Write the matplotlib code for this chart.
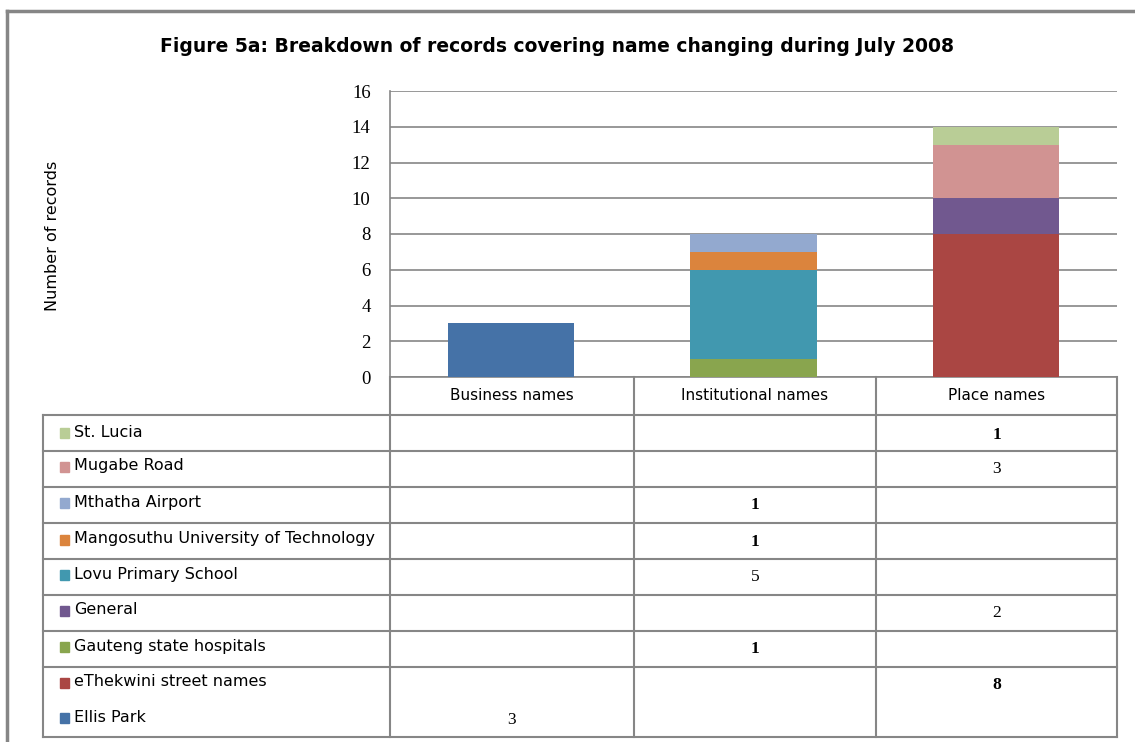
import numpy as np
import matplotlib.pyplot as plt
from matplotlib.lines import Line2D
from matplotlib.patches import Rectangle

# Categories and series (stack order bottom -> top)
categories = ['Business names', 'Institutional names', 'Place names']
series_names = ['Ellis Park', 'eThekwini street names', 'Gauteng state hospitals',
                'General', 'Lovu Primary School', 'Mangosuthu University of Technology',
                'Mthatha Airport', 'Mugabe Road', 'St. Lucia']
ellis_park = [3, 0, 0]
ethekwini = [0, 0, 8]
gauteng = [0, 1, 0]
general = [0, 0, 2]
lovu = [0, 5, 0]
mangosuthu = [0, 1, 0]
mthatha = [0, 1, 0]
mugabe = [0, 0, 3]
st_lucia = [0, 0, 1]
series_values = [ellis_park, ethekwini, gauteng, general, lovu,
                 mangosuthu, mthatha, mugabe, st_lucia]
colors = ['#4572A7', '#AA4643', '#89A54E', '#71588F', '#4198AF',
          '#DB843D', '#93A9CF', '#D19392', '#B9CD96']

W, H = 1135, 742
fig = plt.figure(figsize=(W / 100, H / 100), dpi=100)
fig.patch.set_facecolor('white')

def fx(x):
    return x / W

def fy(y):
    return 1 - y / H

grey = '#868686'
label_font = ['Liberation Sans Narrow', 'DejaVu Sans']
num_font = ['Liberation Serif', 'DejaVu Serif']

# outer frame (only top and left edges fall inside the picture)
fig.add_artist(Line2D([fx(7), fx(1140)], [fy(11), fy(11)], color=grey, lw=2.5,
                      transform=fig.transFigure))
fig.add_artist(Line2D([fx(7), fx(7)], [fy(11), fy(760)], color=grey, lw=2.5,
                      transform=fig.transFigure))

ax = fig.add_axes([fx(390), fy(377), fx(1117) - fx(390), fy(91) - fy(377)])
x = np.arange(len(categories))
bottom = np.zeros(len(categories))
for name, vals, c in zip(series_names, series_values, colors):
    ax.bar(x, vals, 0.52, bottom=bottom, color=c, label=name, zorder=3)
    bottom += np.array(vals)

ax.set_xlim(-0.5, 2.5)
ax.set_ylim(0, 16)
ax.set_yticks(np.arange(0, 17, 2))
ax.set_xticks([])
ax.yaxis.grid(True, color=grey, lw=1.2, zorder=0)
for s in ['top', 'right']:
    ax.spines[s].set_visible(False)
for s in ['left', 'bottom']:
    ax.spines[s].set_color(grey)
    ax.spines[s].set_linewidth(1.2)
ax.tick_params(axis='y', length=0, pad=14, labelsize=13.5)
for lbl in ax.get_yticklabels():
    lbl.set_family(num_font)

fig.text(fx(53), fy(236), 'Number of records', rotation=90, ha='center', va='center',
         fontsize=11.5, family=label_font)

fig.text(fx(557), fy(47), 'Figure 5a: Breakdown of records covering name changing during July 2008',
         ha='center', va='center', fontsize=13.5, fontweight='bold', family=label_font)

# data table
col_x = [390, 634, 876, 1117]
row_y = [415, 451, 487, 523, 559, 595, 631, 667, 737]
left_x = 43

def hline(x0, x1, y, lw=1.5):
    fig.add_artist(Line2D([fx(x0), fx(x1)], [fy(y), fy(y)], color=grey, lw=lw,
                          transform=fig.transFigure))

def vline(x0, y0, y1, lw=1.5):
    fig.add_artist(Line2D([fx(x0), fx(x0)], [fy(y0), fy(y1)], color=grey, lw=lw,
                          transform=fig.transFigure))

for yy in row_y:
    hline(left_x, col_x[-1], yy)
vline(left_x, row_y[0], row_y[-1])
for xx in col_x:
    vline(xx, 377, row_y[-1])

for i, cat in enumerate(categories):
    fig.text(fx((col_x[i] + col_x[i + 1]) / 2), fy(396), cat, ha='center', va='center',
             fontsize=11, family=label_font)

# rows listed top -> bottom in reverse stack order; last two share one cell
row_centers = [433, 467, 503, 540, 575, 611, 647, 683, 718]
for r, idx in enumerate(range(len(series_names) - 1, -1, -1)):
    yc = row_centers[r]
    fig.add_artist(Rectangle((fx(60), fy(yc + 5)), fx(69) - fx(60), fy(yc - 5) - fy(yc + 5),
                             transform=fig.transFigure, color=colors[idx]))
    fig.text(fx(74), fy(yc - 1), series_names[idx], ha='left', va='center',
             fontsize=11.5, family=label_font)
    for j, v in enumerate(series_values[idx]):
        if v:
            fig.text(fx((col_x[j] + col_x[j + 1]) / 2), fy(yc + 2), str(v),
                     ha='center', va='center', fontsize=12.5, family=num_font,
                     fontweight='bold' if v in (1, 8) else 'normal')

fig.savefig('out.png', dpi=100)
